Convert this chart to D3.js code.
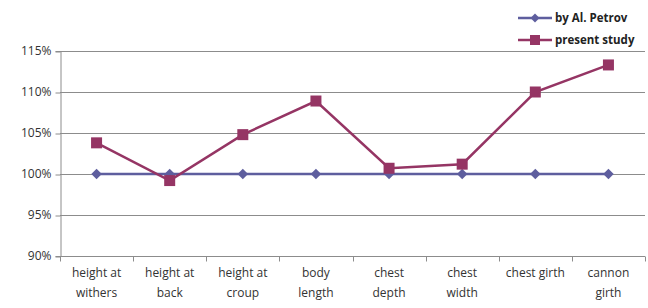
<!DOCTYPE html>
<html><head><meta charset="utf-8">
<script src="https://cdn.jsdelivr.net/npm/d3@7"></script>
<style>body{margin:0;background:#fff}svg{display:block}</style>
</head><body>
<svg id="c" width="648" height="308"></svg>
<script>
const categories = [["height at","withers"],["height at","back"],["height at","croup"],["body","length"],["chest","depth"],["chest","width"],["chest girth"],["cannon","girth"]];
const seriesNames = ["by Al. Petrov","present study"];
const petrov = [100,100,100,100,100,100,100,100];
const present = [103.8,99.2,104.8,108.9,100.7,101.2,110.0,113.3];
const yTicks = [90,95,100,105,110,115];
const colors = ["#5E5E9E","#953564"];

const svg = d3.select("#c");
const font = "'Open Sans', sans-serif";
const m = {l:60, r:645, t:51, b:256};
const x = d3.scaleBand().domain(d3.range(categories.length)).range([m.l, m.r]);
const y = d3.scaleLinear().domain([90,115]).range([m.b, m.t]);

// gridlines
svg.append("g").selectAll("line").data(yTicks.slice(1)).join("line")
  .attr("x1", m.l).attr("x2", m.r).attr("y1", d=>y(d)+0.5).attr("y2", d=>y(d)+0.5)
  .attr("stroke","#8c8c8c").attr("stroke-width",1);

// y axis
const ya = svg.append("g").attr("transform",`translate(${m.l+0.5},0)`)
  .call(d3.axisLeft(y).tickValues(yTicks).tickSize(5).tickFormat(d=>d+"%"));
ya.select(".domain").attr("stroke","#8c8c8c");
ya.selectAll(".tick line").attr("stroke","#8c8c8c").attr("transform","translate(0,0.5)");
ya.selectAll("text").attr("font-family",font).attr("font-size",12).attr("fill","#333").attr("x",-9);

// x axis
const xa = svg.append("g").attr("transform",`translate(0,${m.b+0.5})`);
xa.append("line").attr("x1",m.l).attr("x2",m.r).attr("stroke","#8c8c8c");
xa.selectAll("line.t").data(d3.range(categories.length+1)).join("line").attr("class","t")
  .attr("x1",d=>Math.round(m.l + d*x.step())+0.5).attr("x2",d=>Math.round(m.l + d*x.step())+0.5)
  .attr("y1",0).attr("y2",5).attr("stroke","#8c8c8c");
const lab = xa.selectAll("text").data(categories).join("text")
  .attr("x",(d,i)=>x(i)+x.bandwidth()/2).attr("y",20)
  .attr("text-anchor","middle").attr("font-family",font).attr("font-size",12).attr("fill","#333");
lab.selectAll("tspan").data(d=>d).join("tspan")
  .attr("x",function(){return d3.select(this.parentNode).attr("x");})
  .attr("dy",(d,i)=>i===0?0:20).text(d=>d);

const cx = i => x(i)+x.bandwidth()/2;
const line = d3.line().x((d,i)=>cx(i)).y(d=>y(d));

// petrov series
svg.append("path").datum(petrov).attr("d",line).attr("fill","none").attr("stroke",colors[0]).attr("stroke-width",2.5);
svg.append("g").selectAll("path").data(petrov).join("path")
  .attr("d",d3.symbol(d3.symbolSquare, 55))
  .attr("transform",(d,i)=>`translate(${cx(i)},${y(d)}) rotate(45)`)
  .attr("fill",colors[0]);

// present series
svg.append("path").datum(present).attr("d",line).attr("fill","none").attr("stroke",colors[1]).attr("stroke-width",2.5);
svg.append("g").selectAll("rect").data(present).join("rect")
  .attr("x",(d,i)=>cx(i)-5.5).attr("y",d=>y(d)-5.5).attr("width",11).attr("height",11)
  .attr("fill",colors[1]);

// legend
const lg = svg.append("g");
const ly = [18,40];
seriesNames.forEach((n,i)=>{
  lg.append("line").attr("x1",518).attr("x2",552).attr("y1",ly[i]).attr("y2",ly[i]).attr("stroke",colors[i]).attr("stroke-width",2.5);
  if(i===0){
    lg.append("path").attr("d",d3.symbol(d3.symbolSquare,40)).attr("transform",`translate(535,${ly[i]}) rotate(45)`).attr("fill",colors[i]);
  } else {
    lg.append("rect").attr("x",530).attr("y",ly[i]-5).attr("width",10).attr("height",10).attr("fill",colors[i]);
  }
  lg.append("text").attr("x",555).attr("y",ly[i]+4).attr("font-family",font).attr("font-size",11.5).attr("font-weight","bold").attr("fill","#222").text(n);
});
</script>
</body></html>
